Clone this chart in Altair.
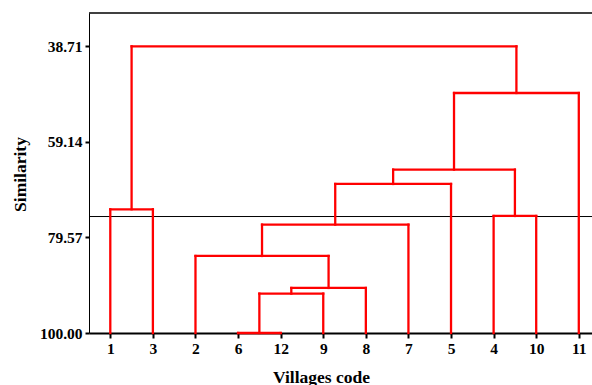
import altair as alt
import pandas as pd

# leaf order along the x axis (village codes)
codes = ["1", "3", "2", "6", "12", "9", "8", "7", "5", "4", "10", "11"]
# linkage: node ids 0..11 are leaves, each merge creates node 12, 13, ...
merge_a = [3, 12, 13, 2, 15, 16, 9, 17, 19, 0, 21]
merge_b = [4, 5, 6, 14, 7, 8, 10, 18, 11, 1, 20]
merge_sim = [100.00, 91.58, 90.37, 83.53, 76.83, 68.14, 74.98, 65.07, 48.69, 73.55, 38.71]
cut_sim = 75.1
y_ticks = [38.71, 59.14, 79.57, 100.00]

pos = {i: float(i) for i in range(len(codes))}
hgt = {i: 100.0 for i in range(len(codes))}
rows = []
for k, (a, b, s) in enumerate(zip(merge_a, merge_b, merge_sim)):
    node = len(codes) + k
    rows.append(dict(x=pos[a], x2=pos[a], y=hgt[a], y2=s))
    rows.append(dict(x=pos[b], x2=pos[b], y=hgt[b], y2=s))
    rows.append(dict(x=pos[a], x2=pos[b], y=s, y2=s))
    pos[node] = (pos[a] + pos[b]) / 2
    hgt[node] = s
seg = pd.DataFrame(rows)

W, H = 503, 320
FONT = "Liberation Serif"
label_expr = "[" + ",".join("'%s'" % c for c in codes) + "][datum.value]"

xscale = alt.Scale(domain=[-0.5, 11.31], nice=False, zero=False)
yscale = alt.Scale(domain=[31.59, 100], reverse=True, nice=False, zero=False)

x_axis = alt.Axis(
    values=list(range(len(codes))), labelExpr=label_expr, title="Villages code",
    grid=False, domainColor="black", domainWidth=2, tickColor="black", tickWidth=2,
    tickSize=5, labelPadding=3, labelFont=FONT, labelFontSize=15.5, labelFontWeight="bold",
    labelColor="black", titleFont=FONT, titleFontSize=17.5, titleFontWeight="bold",
    titleColor="black", titleX=232, titleY=49, titleBaseline="alphabetic", titleAlign="center",
)
y_axis = alt.Axis(
    values=y_ticks, format=".2f", title="Similarity", grid=False,
    domainColor="black", domainWidth=1, tickColor="black", tickWidth=2, tickSize=4,
    labelPadding=3, labelFont=FONT, labelFontSize=15.5, labelFontWeight="bold",
    labelColor="black", titleFont=FONT, titleFontSize=17.5, titleFontWeight="bold",
    titleColor="black", titleX=-69, titleY=161, titleAngle=-90, titleAlign="center",
    titleBaseline="middle",
)

tree = alt.Chart(seg).mark_rule(color="#ff0000", strokeWidth=2.3, strokeCap="square").encode(
    x=alt.X("x:Q", scale=xscale, axis=x_axis),
    x2="x2:Q",
    y=alt.Y("y:Q", scale=yscale, axis=y_axis),
    y2="y2:Q",
)

cut = alt.Chart(pd.DataFrame({"s": [cut_sim]})).mark_rule(color="black", strokeWidth=1).encode(
    y=alt.Y("s:Q", scale=yscale),
    x=alt.value(0), x2=alt.value(W),
)

top = alt.Chart(pd.DataFrame({"s": [0]})).mark_rule(color="black", strokeWidth=1.5).encode(
    y=alt.value(0), x=alt.value(0), x2=alt.value(W),
)

chart = alt.layer(cut, tree, top).properties(
    width=W, height=H,
    autosize=alt.AutoSizeParams(type="none"),
    padding={"left": 89, "top": 13, "right": 0, "bottom": 52},
    background="white",
).configure_view(strokeWidth=0)

chart.save("out.html", embed_options={"renderer": "svg", "actions": False})
